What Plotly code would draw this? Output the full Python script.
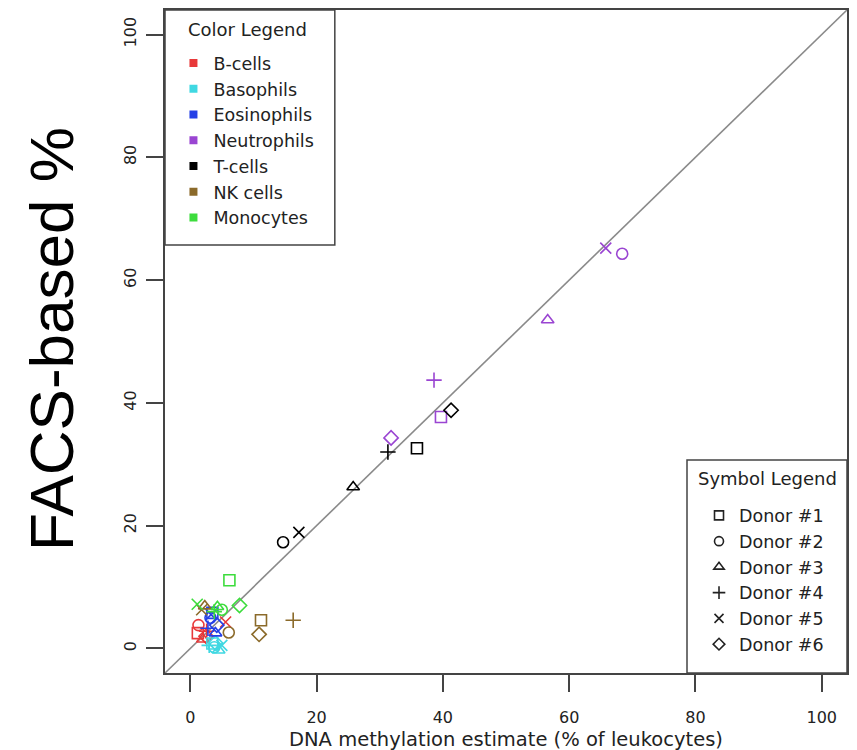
import plotly.graph_objects as go

cell_types = ["B-cells", "Basophils", "Eosinophils", "Neutrophils", "T-cells", "NK cells", "Monocytes"]
cell_colors = ["#e8393a", "#40d8e2", "#2540e6", "#9a45d2", "#000000", "#8b6a2a", "#3ddc3d"]
donors = ["Donor #1", "Donor #2", "Donor #3", "Donor #4", "Donor #5", "Donor #6"]
donor_symbols = ["square-open", "circle-open", "triangle-up-open", "cross-thin-open", "x-thin-open", "diamond-open"]

# DNA methylation estimate (x) and FACS-based % (y), per cell type, donors 1..6
meth_x = {
    "B-cells":     [1.2, 1.3, 2.0, 2.6, 5.6, 2.5],
    "Basophils":   [3.5, 3.8, 4.5, 3.0, 5.0, 4.0],
    "Eosinophils": [3.5, 3.2, 4.0, 2.8, 3.3, 4.2],
    "Neutrophils": [39.7, 68.4, 56.6, 38.6, 65.8, 31.8],
    "T-cells":     [35.9, 14.7, 25.8, 31.3, 17.2, 41.3],
    "NK cells":    [11.2, 6.1, 2.3, 16.3, 1.8, 10.9],
    "Monocytes":   [6.2, 5.0, 4.3, 3.8, 1.1, 7.8],
}
facs_y = {
    "B-cells":     [2.5, 3.8, 1.5, 2.8, 4.3, 2.0],
    "Basophils":   [0.8, 0.2, -0.3, 0.5, 0.5, 0.9],
    "Eosinophils": [5.8, 5.0, 2.5, 3.3, 5.5, 3.8],
    "Neutrophils": [37.7, 64.3, 53.5, 43.7, 65.2, 34.3],
    "T-cells":     [32.6, 17.3, 26.3, 32.0, 18.9, 38.8],
    "NK cells":    [4.6, 2.6, 6.9, 4.6, 6.3, 2.3],
    "Monocytes":   [11.1, 6.3, 6.8, 6.0, 7.2, 7.0],
}

x_ticks = [0, 20, 40, 60, 80, 100]
y_ticks = [0, 20, 40, 60, 80, 100]

FONT = "DejaVu Sans"
TXT = "#222"

fig = go.Figure()

# identity line
fig.add_shape(type="line", x0=-4, y0=-4, x1=104, y1=104, xref="x", yref="y",
              line=dict(color="#8a8a8a", width=1.6), layer="below")

for ct, col in zip(cell_types, cell_colors):
    fig.add_trace(go.Scatter(
        x=meth_x[ct], y=facs_y[ct], mode="markers", showlegend=False,
        marker=dict(symbol=donor_symbols, size=11, color=col,
                    line=dict(color=col, width=1.6)),
        name=ct))

# colour legend entries
for ct, col in zip(cell_types, cell_colors):
    fig.add_trace(go.Scatter(x=[None], y=[None], mode="markers", name=ct,
                             marker=dict(symbol="square", size=8, color=col),
                             legend="legend"))
# symbol legend entries
for d, s in zip(donors, donor_symbols):
    fig.add_trace(go.Scatter(x=[None], y=[None], mode="markers", name=d,
                             marker=dict(symbol=s, size=9, color="#222",
                                         line=dict(color="#222", width=1.6)),
                             legend="legend2"))

axis_common = dict(showgrid=False, zeroline=False, showline=True, mirror=True,
                   linecolor="#444", linewidth=1.5, ticks="outside", ticklen=17,
                   tickwidth=1.5, tickcolor="#444", range=[-4, 104], automargin=False,
                   tickfont=dict(family=FONT, size=16, color=TXT))

# legend boxes (paper coords of plot area: x 165..847 px, y 10..673 px)
fig.add_shape(type="rect", xref="paper", yref="paper", x0=0, x1=0.249, y0=0.6456, y1=1,
              line=dict(color="#444", width=1.5), fillcolor="white", layer="above")
fig.add_shape(type="rect", xref="paper", yref="paper", x0=0.7654, x1=1, y0=0, y1=0.3213,
              line=dict(color="#444", width=1.5), fillcolor="white", layer="above")

fig.update_layout(
    width=857, height=750,
    margin=dict(l=165, r=10, t=10, b=77),
    paper_bgcolor="white", plot_bgcolor="white",
    xaxis=dict(**axis_common, tickvals=x_ticks, ticklabelstandoff=12),
    yaxis=dict(**axis_common, tickvals=y_ticks, tickangle=-90, ticklabelstandoff=4),
    legend=dict(x=0.0124, y=0.947, xanchor="left", yanchor="top",
                borderwidth=0, bgcolor="rgba(0,0,0,0)",
                font=dict(family=FONT, size=17.5, color=TXT)),
    legend2=dict(x=0.783, y=0.2647, xanchor="left", yanchor="top",
                 borderwidth=0, bgcolor="rgba(0,0,0,0)",
                 font=dict(family=FONT, size=17.5, color=TXT)),
    annotations=[
        dict(text="FACS-based %", xref="paper", yref="paper", x=-0.1657, y=0.5038,
             showarrow=False, textangle=-90, xanchor="center", yanchor="middle",
             font=dict(family="Liberation Sans, Arial", size=62, color="#000")),
        dict(text="DNA methylation estimate (% of leukocytes)", xref="paper", yref="paper",
             x=0.5, y=-0.101, showarrow=False, xanchor="center", yanchor="middle",
             font=dict(family=FONT, size=19.5, color=TXT)),
        dict(text="Color Legend", xref="paper", yref="paper", x=0.1217, y=0.970,
             showarrow=False, xanchor="center", yanchor="middle",
             font=dict(family=FONT, size=18, color=TXT)),
        dict(text="Symbol Legend", xref="paper", yref="paper", x=0.884, y=0.294,
             showarrow=False, xanchor="center", yanchor="middle",
             font=dict(family=FONT, size=18, color=TXT)),
    ],
)

fig.write_html("out.html", config={"displayModeBar": False},
               post_script="document.body.style.margin='0';document.body.style.overflow='hidden';")
